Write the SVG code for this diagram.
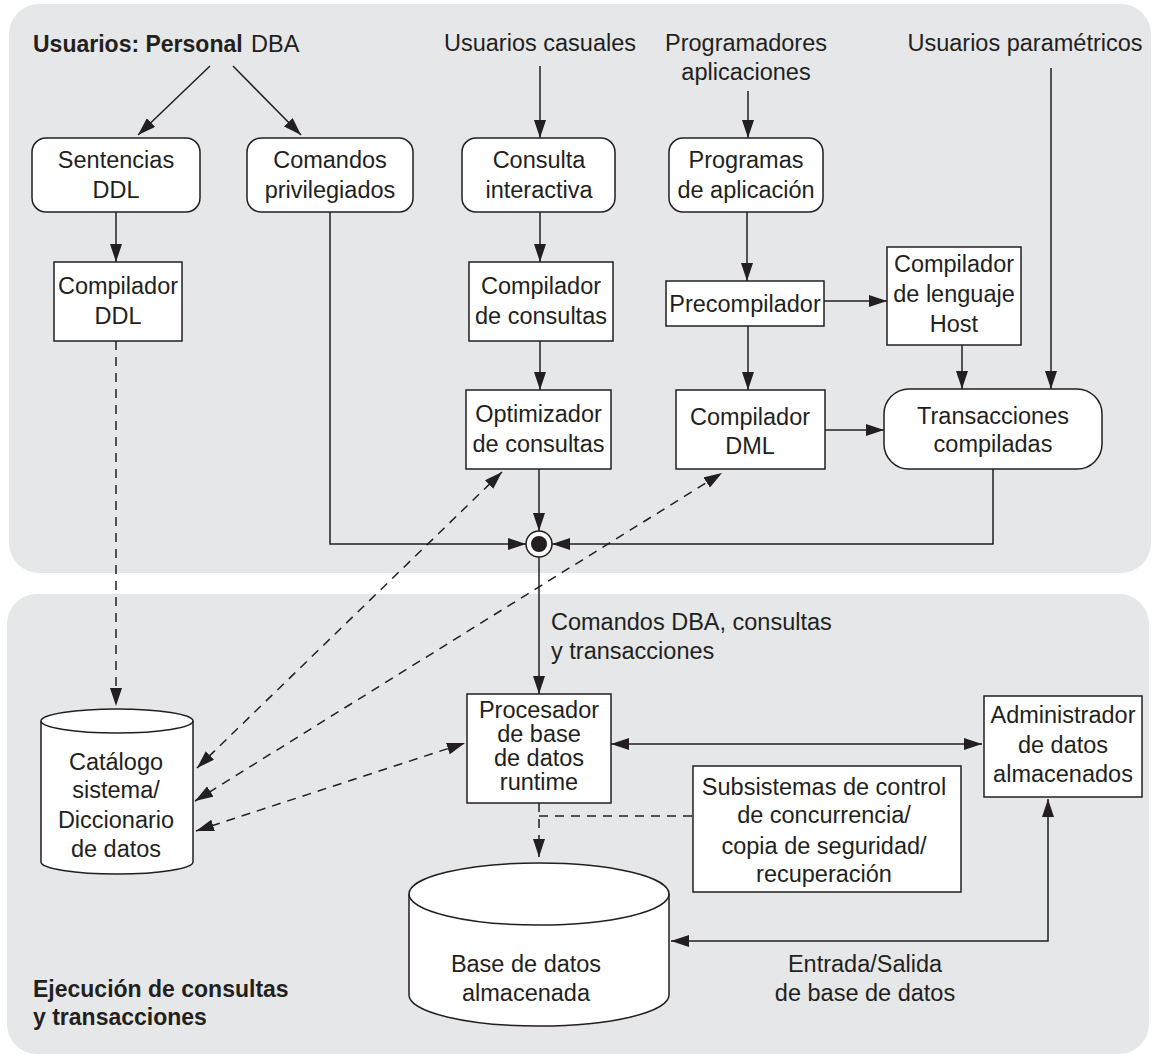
<svg xmlns="http://www.w3.org/2000/svg" width="1153" height="1055" viewBox="0 0 1153 1055">
<style>
text{font-family:"Liberation Sans",Arial,sans-serif;font-size:23.5px;fill:#231f20}
.c{text-anchor:middle}
.b{font-weight:bold;font-size:23px}
.panel{fill:#e6e7e8}
.box{fill:#fff;stroke:#231f20;stroke-width:1.5}
.ln{fill:none;stroke:#231f20;stroke-width:1.5}
.d{stroke-dasharray:9 7}
</style>
<defs>
<marker id="ah" viewBox="0 0 18 12" refX="18" refY="6" markerWidth="18" markerHeight="12" markerUnits="userSpaceOnUse" orient="auto-start-reverse">
<path d="M0,0 L18,6 L0,12 z" fill="#231f20"/>
</marker>
</defs>
<rect class="panel" x="9" y="4" width="1142" height="569" rx="30"/>
<rect class="panel" x="7" y="594" width="1142" height="460" rx="30"/>

<g id="connectors">
<line class="ln" x1="210" y1="66" x2="138" y2="135" marker-end="url(#ah)"/>
<line class="ln" x1="233" y1="66" x2="301" y2="135" marker-end="url(#ah)"/>
<line class="ln" x1="540" y1="66" x2="540" y2="138" marker-end="url(#ah)"/>
<line class="ln" x1="748" y1="91" x2="748" y2="138" marker-end="url(#ah)"/>
<line class="ln" x1="1051" y1="68" x2="1051" y2="389" marker-end="url(#ah)"/>
<line class="ln" x1="116" y1="212" x2="116" y2="262" marker-end="url(#ah)"/>
<line class="ln" x1="540" y1="212" x2="540" y2="262" marker-end="url(#ah)"/>
<line class="ln" x1="540" y1="341" x2="540" y2="390" marker-end="url(#ah)"/>
<line class="ln" x1="747" y1="212" x2="747" y2="281" marker-end="url(#ah)"/>
<line class="ln" x1="824" y1="301" x2="887" y2="301" marker-end="url(#ah)"/>
<line class="ln" x1="748" y1="326" x2="748" y2="390" marker-end="url(#ah)"/>
<line class="ln" x1="962" y1="345" x2="962" y2="389" marker-end="url(#ah)"/>
<line class="ln" x1="825" y1="430" x2="884" y2="430" marker-end="url(#ah)"/>
<line class="ln" x1="539" y1="469" x2="539" y2="531" marker-end="url(#ah)"/>
<polyline class="ln" points="330,212 330,544 526,544" marker-end="url(#ah)"/>
<polyline class="ln" points="993,469 993,544 552,544" marker-end="url(#ah)"/>
<line class="ln" x1="539" y1="557" x2="539" y2="694" marker-end="url(#ah)"/>
<line class="ln d" x1="116" y1="341" x2="116" y2="706" marker-end="url(#ah)"/>
<line class="ln d" x1="197" y1="768" x2="502" y2="472" marker-start="url(#ah)" marker-end="url(#ah)"/>
<line class="ln d" x1="195" y1="801" x2="722" y2="473" marker-start="url(#ah)" marker-end="url(#ah)"/>
<line class="ln d" x1="196" y1="831" x2="465" y2="743" marker-start="url(#ah)" marker-end="url(#ah)"/>
<line class="ln" x1="611" y1="744" x2="982" y2="744" marker-start="url(#ah)" marker-end="url(#ah)"/>
<line class="ln d" x1="539" y1="803" x2="539" y2="857" marker-end="url(#ah)"/>
<line class="ln d" x1="539" y1="816" x2="693" y2="816"/>
<polyline class="ln" points="1048,799 1048,941 671,941" marker-start="url(#ah)" marker-end="url(#ah)"/>
</g>

<g id="junction">
<circle cx="539" cy="544" r="13" fill="#fff" stroke="#231f20" stroke-width="1.5"/>
<circle cx="539" cy="544" r="8" fill="#231f20"/>
</g>

<g id="lbl-dba">
<text x="33" y="52"><tspan class="b">Usuarios: Personal</tspan></text>
<text x="251" y="52">DBA</text>
</g>
<g id="lbl-casuales"><text class="c" x="540" y="51">Usuarios casuales</text></g>
<g id="lbl-programadores"><text class="c" x="746" y="51">Programadores</text><text class="c" x="746" y="80">aplicaciones</text></g>
<g id="lbl-parametricos"><text class="c" x="1025" y="51">Usuarios paramétricos</text></g>

<g id="n-sentencias">
<rect class="box" x="32" y="138" width="168" height="74" rx="14"/>
<text class="c" x="116" y="168">Sentencias</text><text class="c" x="116" y="198">DDL</text>
</g>
<g id="n-comandos">
<rect class="box" x="247" y="138" width="166" height="74" rx="14"/>
<text class="c" x="330" y="168">Comandos</text><text class="c" x="330" y="198">privilegiados</text>
</g>
<g id="n-consulta">
<rect class="box" x="462" y="138" width="153" height="74" rx="14"/>
<text class="c" x="539" y="168">Consulta</text><text class="c" x="539" y="198">interactiva</text>
</g>
<g id="n-programas">
<rect class="box" x="669" y="138" width="154" height="74" rx="14"/>
<text class="c" x="746" y="168">Programas</text><text class="c" x="746" y="198">de aplicación</text>
</g>
<g id="n-compddl">
<rect class="box" x="54" y="262" width="128" height="79"/>
<text class="c" x="118" y="294">Compilador</text><text class="c" x="118" y="324">DDL</text>
</g>
<g id="n-compcons">
<rect class="box" x="469" y="262" width="144" height="79"/>
<text class="c" x="541" y="294">Compilador</text><text class="c" x="541" y="324">de consultas</text>
</g>
<g id="n-precomp">
<rect class="box" x="666" y="281" width="158" height="45"/>
<text class="c" x="745" y="312">Precompilador</text>
</g>
<g id="n-host">
<rect class="box" x="887" y="247" width="134" height="98"/>
<text class="c" x="954" y="272">Compilador</text><text class="c" x="954" y="302">de lenguaje</text><text class="c" x="954" y="332">Host</text>
</g>
<g id="n-optim">
<rect class="box" x="466" y="390" width="145" height="79"/>
<text class="c" x="538.5" y="422">Optimizador</text><text class="c" x="538.5" y="452">de consultas</text>
</g>
<g id="n-dml">
<rect class="box" x="676" y="390" width="149" height="79"/>
<text class="c" x="750" y="425">Compilador</text><text class="c" x="750" y="454">DML</text>
</g>
<g id="n-trans">
<rect class="box" x="884" y="389" width="218" height="80" rx="25"/>
<text class="c" x="993" y="424">Transacciones</text><text class="c" x="993" y="452">compiladas</text>
</g>

<g id="lbl-comandos-dba">
<text x="551" y="630">Comandos DBA, consultas</text><text x="551" y="659">y transacciones</text>
</g>

<g id="n-catalogo">
<path class="box" d="M41,721 A76,12 0 0 1 193,721 L193,862 A76,12 0 0 1 41,862 Z"/>
<path class="ln" d="M41,721 A76,12 0 0 0 193,721"/>
<text class="c" x="116" y="770">Catálogo</text><text class="c" x="116" y="798">sistema/</text><text class="c" x="116" y="828">Diccionario</text><text class="c" x="116" y="857">de datos</text>
</g>
<g id="n-procesador">
<rect class="box" x="467" y="694" width="144" height="109"/>
<text class="c" x="539" y="718">Procesador</text><text class="c" x="539" y="742">de base</text><text class="c" x="539" y="766">de datos</text><text class="c" x="539" y="790">runtime</text>
</g>
<g id="n-admin">
<rect class="box" x="984" y="696" width="158" height="101"/>
<text class="c" x="1063" y="723">Administrador</text><text class="c" x="1063" y="753">de datos</text><text class="c" x="1063" y="782">almacenados</text>
</g>
<g id="n-subsistemas">
<rect class="box" x="693" y="766" width="268" height="126"/>
<text class="c" x="824" y="795">Subsistemas de control</text><text class="c" x="824" y="823">de concurrencia/</text><text class="c" x="824" y="854">copia de seguridad/</text><text class="c" x="824" y="882">recuperación</text>
</g>
<g id="n-basedatos">
<path class="box" d="M409,894 A130,31 0 0 1 669,894 L669,995 A130,31 0 0 1 409,995 Z"/>
<path class="ln" d="M409,894 A130,31 0 0 0 669,894"/>
<text class="c" x="526" y="972">Base de datos</text><text class="c" x="526" y="1001">almacenada</text>
</g>

<g id="lbl-io">
<text class="c" x="865" y="972">Entrada/Salida</text><text class="c" x="865" y="1001">de base de datos</text>
</g>
<g id="lbl-ejecucion">
<text class="b" x="33" y="997">Ejecución de consultas</text><text class="b" x="33" y="1025">y transacciones</text>
</g>
</svg>
